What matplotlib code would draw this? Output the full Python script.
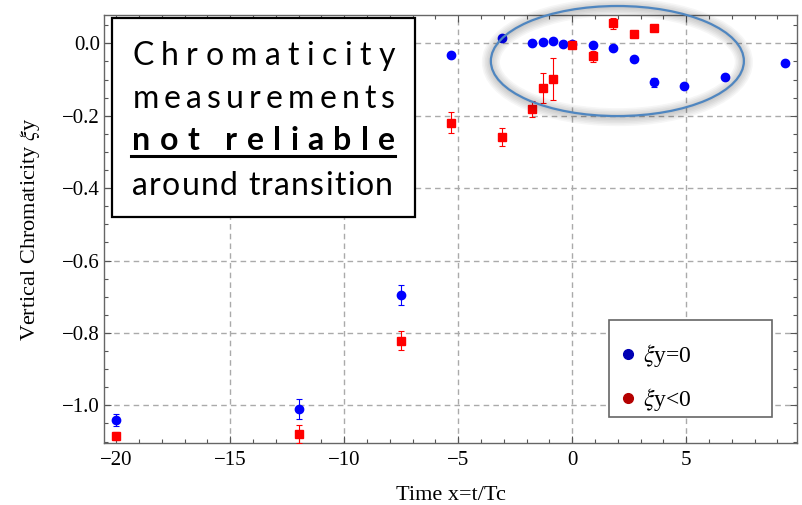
import matplotlib
matplotlib.use("Agg")
import matplotlib.pyplot as plt
from matplotlib.patches import Ellipse, Rectangle
from matplotlib.lines import Line2D
from matplotlib.font_manager import FontProperties
from matplotlib.ticker import MultipleLocator, FixedLocator, FuncFormatter

plt.rcParams["mathtext.fontset"] = "stix"

# ---------------- data ----------------
x_blue = [-20, -12, -7.5, -5.3, -3.1, -1.75, -1.3, -0.85, -0.4, 0.0, 0.9, 1.8, 2.7, 3.6, 4.9, 6.7, 9.35]
y_blue = [-1.041, -1.010, -0.695, -0.031, 0.015, 0.001, 0.004, 0.006, -0.003, -0.003,
          -0.005, -0.014, -0.043, -0.108, -0.119, -0.093, -0.054]
e_blue = [0.017, 0.028, 0.028, 0.005, 0.005, 0.005, 0.005, 0.005, 0.008, 0.005,
          0.005, 0.005, 0.005, 0.012, 0.005, 0.005, 0.005]

x_red = [-20, -12, -7.5, -5.3, -3.1, -1.75, -1.3, -0.85, 0.0, 0.9, 1.8, 2.7, 3.6]
y_red = [-1.085, -1.079, -0.822, -0.220, -0.260, -0.182, -0.124, -0.099, -0.005,
         -0.036, 0.055, 0.026, 0.042]
e_red = [0.012, 0.025, 0.026, 0.029, 0.025, 0.022, 0.042, 0.058, 0.005, 0.015, 0.015, 0.005, 0.005]

legend_labels = [r"$\xi$y=0", r"$\xi$y<0"]
x_ticks = [-20, -15, -10, -5, 0, 5]
y_ticks = [0.0, -0.2, -0.4, -0.6, -0.8, -1.0]
x_grid = [-15, -10, -5, 0, 5]
box_lines = ["Chromaticity", "measurements", "not reliable", "around transition"]

# ---------------- figure ----------------
W, H = 802, 505
fig = plt.figure(figsize=(W / 100, H / 100), dpi=100)
def fx(x): return x / W
def fy(y): return 1 - y / H

ax_l, ax_r, ax_t, ax_b = 104, 797, 14.7, 443
ax = fig.add_axes([fx(ax_l), fy(ax_b), (ax_r - ax_l) / W, (ax_b - ax_t) / H])
ax.set_xlim(-20.54, 9.86)
ax.set_ylim(-1.104, 0.079)

serif = "Liberation Serif"
gridc = "#aaaaaa"
for gx in x_grid:
    ax.axvline(gx, color=gridc, lw=1.0, ls=(0, (4, 3)), zorder=0.5)
for gy in y_ticks:
    ax.axhline(gy, color=gridc, lw=1.0, ls=(0, (4, 3)), zorder=0.5)

blue = "#0000ff"
red = "#ff0000"
ax.errorbar(x_blue, y_blue, yerr=e_blue, fmt="o", color=blue, ms=6, lw=0.8,
            capsize=2.4, capthick=0.8, zorder=3)
ax.errorbar(x_red, y_red, yerr=e_red, fmt="s", color=red, ms=5.3, lw=0.8,
            capsize=2.4, capthick=0.8, zorder=3.5)

# ellipse highlighting the transition region (with soft shadow)
for k in range(6):
    sh = Ellipse((1.98, -0.052), 11.1, 0.304, fill=False, ec="#000000",
                 alpha=0.035, lw=2 + 2.2 * k, clip_on=False, zorder=3.8)
    ax.add_patch(sh)
ax.add_patch(Ellipse((1.98, -0.049), 11.1, 0.304, fill=False, ec="#4f86c0",
                     lw=1.6, clip_on=False, zorder=4))

# axes styling
ax.xaxis.set_major_locator(FixedLocator(x_ticks))
ax.xaxis.set_minor_locator(MultipleLocator(1))
ax.yaxis.set_major_locator(FixedLocator(y_ticks))
ax.yaxis.set_minor_locator(MultipleLocator(0.05))
fmt_x = FuncFormatter(lambda v, p: f"{v:.0f}".replace("-", "\u2212"))
fmt_y = FuncFormatter(lambda v, p: (f"{v:.1f}" if abs(v) > 1e-9 else "0.0").replace("-", "\u2212"))
ax.xaxis.set_major_formatter(fmt_x)
ax.yaxis.set_major_formatter(fmt_y)
ax.tick_params(which="both", direction="in", top=True, right=True, color="#555555", width=0.8)
ax.tick_params(which="major", length=5)
ax.tick_params(which="minor", length=3)
ax.tick_params(axis="x", which="major", pad=6, labelsize=15)
ax.tick_params(axis="y", which="major", pad=3, labelsize=15)
for lab in ax.get_xticklabels() + ax.get_yticklabels():
    lab.set_fontfamily(serif)
for s in ax.spines.values():
    s.set_color("#666666")
    s.set_linewidth(1.0)

ax.set_xlabel("Time x=t/Tc", fontsize=16, family=serif)
ax.set_ylabel(r"Vertical Chromaticity $\xi$y", fontsize=16, family=serif)
ax.xaxis.label.set_va("baseline")
ax.xaxis.set_label_coords(0.5, (ax_b - 500) / (ax_b - ax_t))
ax.yaxis.label.set_va("baseline")
ax.yaxis.set_label_coords((35 - ax_l) / (ax_r - ax_l), 0.5)

# legend
ax.add_patch(Rectangle((fx(609), fy(416.5)), (772 - 609) / W, (416.5 - 320) / H,
                       transform=fig.transFigure, fill=True, fc="white",
                       ec="#666666", lw=1.2, zorder=5, clip_on=False))
handles = [Line2D([], [], marker="o", ls="none", color="#0000b4", ms=7),
           Line2D([], [], marker="o", ls="none", color="#b40000", ms=7)]
leg = ax.legend(handles, legend_labels, loc="upper left",
                bbox_to_anchor=(fx(616), fy(342)), bbox_transform=fig.transFigure,
                frameon=False, borderpad=0, borderaxespad=0, handlelength=1.0,
                handletextpad=0.15, labelspacing=0.72,
                prop=FontProperties(family=serif, size=17))
leg.set_zorder(6)

# text box
fig.add_artist(Rectangle((fx(111.7), fy(217.5)), (415 - 111.7) / W, (217.5 - 18.3) / H,
                         transform=fig.transFigure, fill=True, fc="white",
                         ec="black", lw=1.6, zorder=5))

renderer = fig.canvas.get_renderer()
fp_reg = FontProperties(family="Lato", size=23)
fp_bold = FontProperties(family="Lato", size=23, weight="bold")

def measure(t, fp):
    tt = fig.text(0, 0, t, fontproperties=fp)
    w = tt.get_window_extent(renderer=renderer).width
    tt.remove()
    return w

def spaced(s, x0, x1, ybase, fp):
    base = measure("||", fp)
    adv = [measure("|" + s[:i] + "|", fp) - base for i in range(len(s) + 1)]
    last_w = measure(s[-1], fp)
    natural = adv[len(s) - 1] + last_w
    n = len(s)
    t = (x1 - x0 - natural) / (n - 1)
    for i, ch in enumerate(s):
        if ch == " ":
            continue
        fig.text(fx(x0 + adv[i] + i * t), fy(ybase), ch, fontproperties=fp,
                 ha="left", va="baseline", zorder=7)

spaced(box_lines[0], 132, 395, 65, fp_reg)
spaced(box_lines[1], 132.5, 395, 107.7, fp_reg)
spaced(box_lines[2], 132, 395, 150, fp_bold)
spaced(box_lines[3], 132, 393, 195, fp_reg)
fig.add_artist(Line2D([fx(131), fx(395)], [fy(155.7), fy(155.7)], color="black",
                      lw=2.2, transform=fig.transFigure, zorder=7))

fig.savefig("out.png", dpi=100)
